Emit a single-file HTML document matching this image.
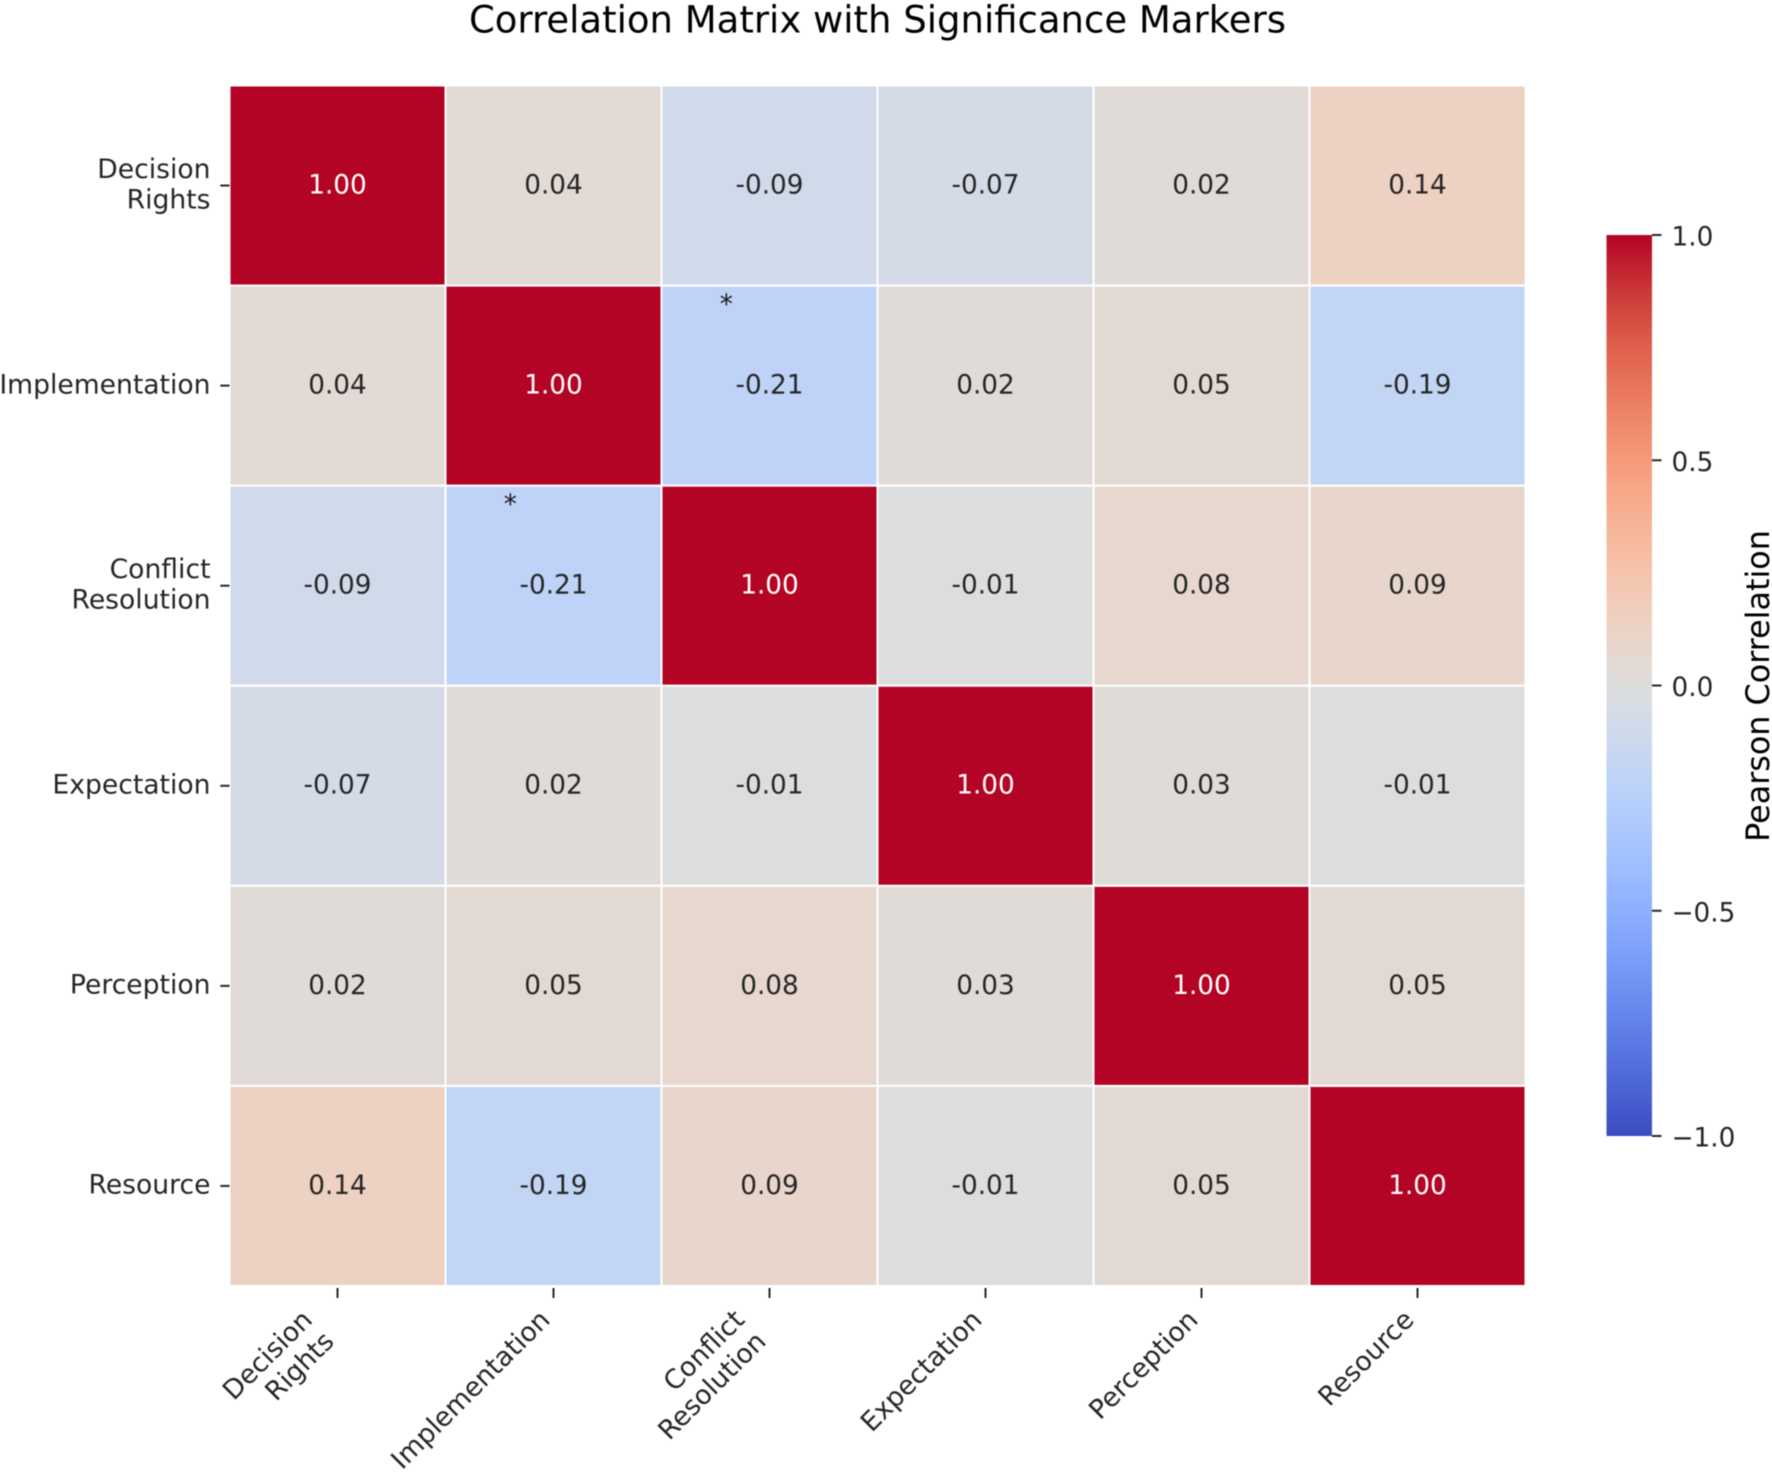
<!DOCTYPE html>
<html lang="en">
<head>
<meta charset="utf-8">
<title>Correlation Matrix with Significance Markers</title>
<style>
  html, body { margin: 0; padding: 0; background: #fff; }
  svg { display: block; font-family: "DejaVu Sans", "Liberation Sans", sans-serif; filter: blur(0.6px); }
</style>
</head>
<body>
<svg id="chart" xmlns="http://www.w3.org/2000/svg" width="1772" height="1473" viewBox="0 0 1772 1473">
  <rect x="0" y="0" width="1772" height="1473" fill="#ffffff"/>
  <text x="877.5" y="32.5" text-anchor="middle" font-size="37" fill="#000">Correlation Matrix with Significance Markers</text>
  <defs>
    <linearGradient id="colorbar-gradient" x1="0" y1="1" x2="0" y2="0"></linearGradient>
  </defs>
  <g id="cells"></g>
  <g id="annotations"></g>
  <g id="markers"></g>
  <g id="y-axis"></g>
  <g id="x-axis"></g>
  <g id="colorbar"></g>
</svg>
<script>
const categories = ["Decision\nRights", "Implementation", "Conflict\nResolution", "Expectation", "Perception", "Resource"];
const row0 = [1.00, 0.04, -0.09, -0.07, 0.02, 0.14];
const row1 = [0.04, 1.00, -0.21, 0.02, 0.05, -0.19];
const row2 = [-0.09, -0.21, 1.00, -0.01, 0.08, 0.09];
const row3 = [-0.07, 0.02, -0.01, 1.00, 0.03, -0.01];
const row4 = [0.02, 0.05, 0.08, 0.03, 1.00, 0.05];
const row5 = [0.14, -0.19, 0.09, -0.01, 0.05, 1.00];
const correlationValues = [row0, row1, row2, row3, row4, row5];
const significantRows = [1, 2];
const significantCols = [2, 1];
const colorbarTicks = [-1.0, -0.5, 0.0, 0.5, 1.0];
const coolwarm = [[59,76,192],[68,90,204],[77,104,215],[87,117,225],[98,130,234],[108,142,241],[119,154,247],[130,165,251],[141,176,254],[152,185,255],[163,194,255],[174,201,253],[184,208,250],[194,213,245],[204,217,238],[213,219,230],[221,221,221],[229,216,209],[236,211,197],[241,204,185],[245,196,173],[247,187,160],[247,177,148],[247,166,135],[244,154,123],[241,141,111],[236,127,99],[229,112,88],[222,96,77],[213,77,66],[203,56,55],[192,30,47],[180,4,38]];

const NS = "http://www.w3.org/2000/svg";
const plot = { left: 229.5, right: 1525.5, top: 85.5, bottom: 1286 };
const bar = { left: 1606.5, right: 1652, top: 235, bottom: 1136 };
const fs = 26.3;
const tickFs = 26.6;
const lineGap = 30.6;
const n = categories.length;

function xScale(c) { return plot.left + (plot.right - plot.left) * c / n; }
function yScale(r) { return plot.top + (plot.bottom - plot.top) * r / n; }
function barScale(v) { return bar.bottom - (v + 1) / 2 * (bar.bottom - bar.top); }
function colorFor(v) {
  const t = Math.max(0, Math.min(1, (v + 1) / 2)) * (coolwarm.length - 1);
  const i = Math.min(coolwarm.length - 2, Math.floor(t));
  const f = t - i;
  const a = coolwarm[i], b = coolwarm[i + 1];
  return "rgb(" + a.map((q, k) => Math.round(q + (b[k] - q) * f)).join(",") + ")";
}
function make(tag, parent, attrs, text) {
  const e = document.createElementNS(NS, tag);
  for (const k in attrs) e.setAttribute(k, attrs[k]);
  if (text !== undefined) e.textContent = text;
  parent.appendChild(e);
  return e;
}

const gCells = document.getElementById("cells");
const gAnn = document.getElementById("annotations");
const gMark = document.getElementById("markers");
const gY = document.getElementById("y-axis");
const gX = document.getElementById("x-axis");
const gBar = document.getElementById("colorbar");

correlationValues.forEach((vals, r) => {
  vals.forEach((v, c) => {
    const cell = make("rect", gCells, {
      x: xScale(c), y: yScale(r),
      width: xScale(c + 1) - xScale(c), height: yScale(r + 1) - yScale(r),
      fill: colorFor(v), stroke: "#ffffff", "stroke-width": 2
    });
    
    
    const label = make("text", gAnn, {
      x: (xScale(c) + xScale(c + 1)) / 2,
      y: (yScale(r) + yScale(r + 1)) / 2 + fs * 0.365 - 1.7,
      "text-anchor": "middle", "font-size": fs,
      fill: Math.abs(v) > 0.6 ? "#ffffff" : "#262626"
    }, v.toFixed(2));
    
    
  });
});

significantRows.forEach((r, i) => {
  const c = significantCols[i];
  const star = make("text", gMark, {
    x: xScale(c + 0.30), y: yScale(r + 0.137),
    "text-anchor": "middle", "font-size": fs, fill: "#1a1a1a"
  }, "*");
  
  
});

categories.forEach((name, i) => {
  const lines = name.split("\n");
  const cy = yScale(i + 0.5);
  const yt = make("line", gY, { x1: plot.left - 9.2, x2: plot.left, y1: cy, y2: cy, stroke: "#262626", "stroke-width": 2 });
  
  
  lines.forEach((line, k) => {
    const base = cy + (k - (lines.length - 1) / 2) * lineGap + tickFs * 0.365 - 2;
    const t = make("text", gY, { x: 210.5, y: base, "text-anchor": "end", "font-size": tickFs, fill: "#262626" }, line);
    
    
  });

  const cx = xScale(i + 0.5);
  const xt = make("line", gX, { x1: cx, x2: cx, y1: plot.bottom + 2, y2: plot.bottom + 12, stroke: "#262626", "stroke-width": 2 });
  
  
  const h = tickFs + (lines.length - 1) * lineGap;
  const topY = plot.bottom + 21;
  const sq = Math.SQRT1_2;
  lines.forEach((line, k) => {
    const down = tickFs * 0.76 + k * lineGap;
    const ex = cx + 2.5 - h * sq + down * sq;
    const ey = topY + down * sq;
    const t = make("text", gX, {
      x: ex, y: ey, "text-anchor": "end", "font-size": tickFs, fill: "#262626",
      transform: "rotate(-45 " + ex + " " + ey + ")"
    }, line);
    
    
  });
});

const grad = document.getElementById("colorbar-gradient");
coolwarm.forEach((_, i) => {
  const p = i / (coolwarm.length - 1);
  make("stop", grad, { offset: p, "stop-color": colorFor(p * 2 - 1) });
});
const barRect = make("rect", gBar, {
  x: bar.left, y: bar.top, width: bar.right - bar.left, height: bar.bottom - bar.top,
  fill: "url(#colorbar-gradient)"
});


colorbarTicks.forEach(v => {
  const y = barScale(v);
  const tick = make("line", gBar, { x1: bar.right, x2: bar.right + 9.5, y1: y, y2: y, stroke: "#262626", "stroke-width": 2 });
  
  
  const t = make("text", gBar, {
    x: 1671.5, y: y + fs * 0.365 + 1, "font-size": fs, fill: "#262626"
  }, v.toFixed(1).replace("-", "\u2212"));
  
  
});
const barTitle = make("text", gBar, {
  x: 0, y: 0, "text-anchor": "middle", "font-size": 31.8, fill: "#000",
  transform: "translate(1769 686) rotate(-90)"
}, "Pearson Correlation");


</script>
</body>
</html>
